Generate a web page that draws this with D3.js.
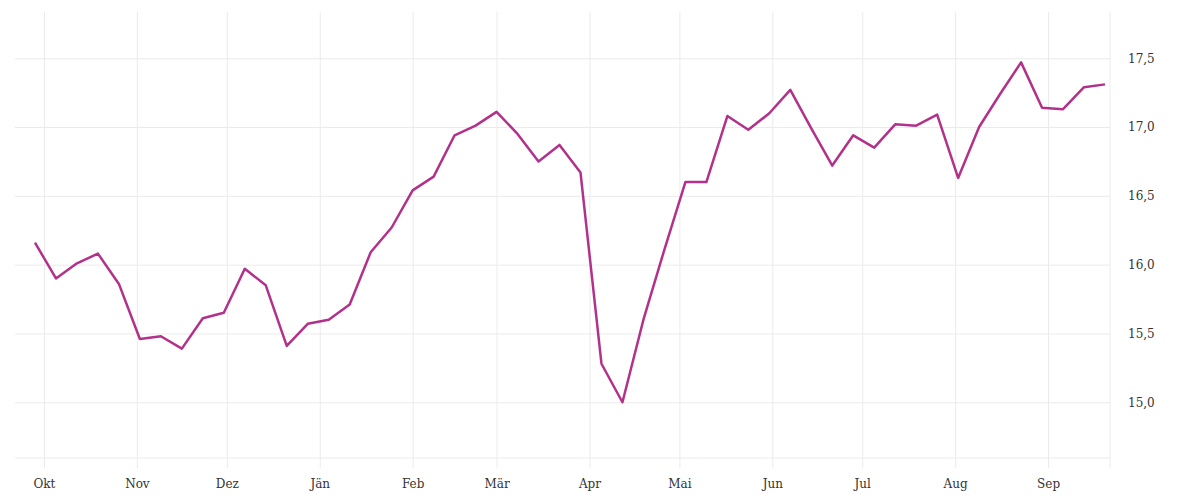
<!DOCTYPE html>
<html>
<head>
<meta charset="utf-8">
<script src="https://cdn.jsdelivr.net/npm/d3@7"></script>
<style>
  body { margin: 0; background: #fff; }
  svg text { font-family: "DejaVu Serif", "Liberation Serif", serif; font-size: 12px; fill: #333; }
</style>
</head>
<body>
<div id="chart"></div>
<script>
// weekly data points
var dates = [
  "2022-09-28", "2022-10-05", "2022-10-12", "2022-10-19", "2022-10-26",
  "2022-11-02", "2022-11-09", "2022-11-16", "2022-11-23", "2022-11-30",
  "2022-12-07", "2022-12-14", "2022-12-21", "2022-12-28",
  "2023-01-04", "2023-01-11", "2023-01-18", "2023-01-25",
  "2023-02-01", "2023-02-08", "2023-02-15", "2023-02-22",
  "2023-03-01", "2023-03-08", "2023-03-15", "2023-03-22", "2023-03-29",
  "2023-04-05", "2023-04-12", "2023-04-19", "2023-04-26",
  "2023-05-03", "2023-05-10", "2023-05-17", "2023-05-24", "2023-05-31",
  "2023-06-07", "2023-06-14", "2023-06-21", "2023-06-28",
  "2023-07-05", "2023-07-12", "2023-07-19", "2023-07-26",
  "2023-08-02", "2023-08-09", "2023-08-16", "2023-08-23", "2023-08-30",
  "2023-09-06", "2023-09-13", "2023-09-20"
];

var values = [
  16.16, 15.90, 16.01, 16.08, 15.86,
  15.46, 15.48, 15.39, 15.61, 15.65,
  15.97, 15.85, 15.41, 15.57,
  15.60, 15.71, 16.09, 16.27,
  16.54, 16.64, 16.94, 17.01,
  17.11, 16.95, 16.75, 16.87, 16.67,
  15.28, 15.00, 15.60, 16.11,
  16.60, 16.60, 17.08, 16.98, 17.10,
  17.27, 16.99, 16.72, 16.94,
  16.85, 17.02, 17.01, 17.09,
  16.63, 17.00, 17.24, 17.47, 17.14,
  17.13, 17.29, 17.31
];

var monthNames = ["Jän", "Feb", "Mär", "Apr", "Mai", "Jun", "Jul", "Aug", "Sep", "Okt", "Nov", "Dez"];
var yTicks = [15.0, 15.5, 16.0, 16.5, 17.0, 17.5];

// Define svg area
var svgWidth = 1200;
var svgHeight = 500;

var plot = { left: 15, right: 1110, top: 12, bottom: 458 };

var svg = d3.select("#chart")
  .append("svg")
  .attr("width", svgWidth)
  .attr("height", svgHeight);

var parseDate = d3.timeParse("%Y-%m-%d");
var data = dates.map((d, i) => ({ date: parseDate(d), value: values[i] }));

var xScale = d3.scaleTime()
  .domain([new Date(2022, 8, 21, 8), new Date(2023, 8, 21, 16)])
  .range([plot.left, plot.right]);

var yScale = d3.scaleLinear()
  .domain([14.595, 17.836])
  .range([plot.bottom, plot.top]);

var deLocale = d3.formatLocale({ decimal: ",", thousands: ".", grouping: [3], currency: ["", " €"] });
var yFormat = deLocale.format(".1f");

var gridColor = "#ebebeb";

// x axis with vertical gridlines
var months = d3.timeMonth.range(new Date(2022, 9, 1), new Date(2023, 9, 1));
var xAxis = svg.append("g")
  .attr("class", "x-axis")
  .attr("transform", `translate(0, ${plot.bottom + 10})`)
  .call(d3.axisBottom(xScale)
    .tickValues(months)
    .tickSize(-(plot.bottom + 10 - plot.top))
    .tickPadding(11)
    .tickFormat(d => monthNames[d.getMonth()]));
xAxis.select(".domain").remove();
xAxis.selectAll("line").attr("stroke", gridColor);

// y axis on the right with horizontal gridlines
var yAxis = svg.append("g")
  .attr("class", "y-axis")
  .attr("transform", `translate(${plot.right}, 0)`)
  .call(d3.axisRight(yScale)
    .tickValues(yTicks)
    .tickSize(-(plot.right - plot.left))
    .tickPadding(18)
    .tickFormat(yFormat));
yAxis.select(".domain").remove();
yAxis.selectAll("line").attr("stroke", gridColor);

// frame lines: bottom and right edge
svg.append("line")
  .attr("x1", plot.left).attr("x2", plot.right)
  .attr("y1", plot.bottom).attr("y2", plot.bottom)
  .attr("stroke", gridColor);
svg.append("line")
  .attr("x1", plot.right).attr("x2", plot.right)
  .attr("y1", plot.top).attr("y2", plot.bottom + 10)
  .attr("stroke", gridColor);

svg.selectAll(".tick text")
  .attr("font-family", "DejaVu Serif, Liberation Serif, serif")
  .attr("fill", "#333");

// the line
var line = d3.line()
  .x(d => xScale(d.date))
  .y(d => yScale(d.value));

svg.append("path")
  .datum(data)
  .attr("fill", "none")
  .attr("stroke", "#b2328b")
  .attr("stroke-width", 2.5)
  .attr("stroke-linejoin", "round")
  .attr("d", line);
</script>
</body>
</html>
